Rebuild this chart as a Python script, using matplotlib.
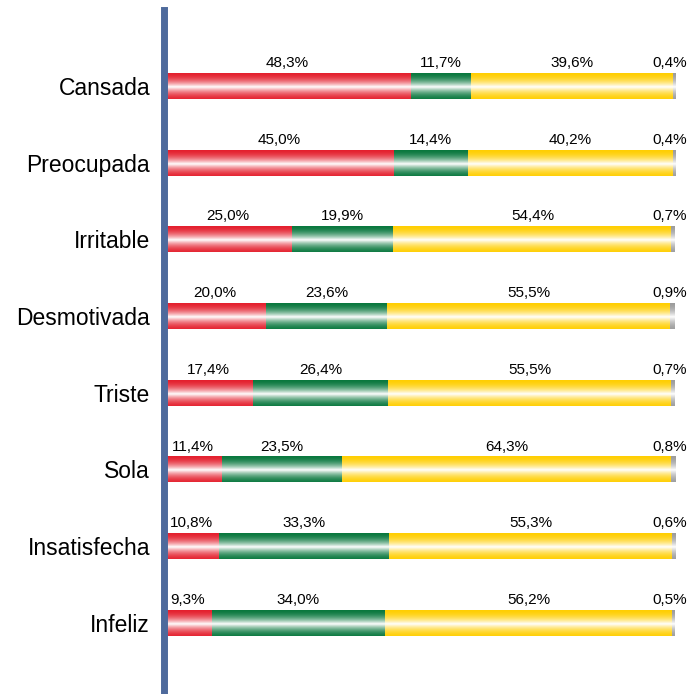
import numpy as np
import matplotlib
matplotlib.use("Agg")
import matplotlib.pyplot as plt
from matplotlib.colors import to_rgb

plt.rcParams["font.family"] = ["Liberation Sans", "DejaVu Sans"]

categories = ["Cansada", "Preocupada", "Irritable", "Desmotivada",
              "Triste", "Sola", "Insatisfecha", "Infeliz"]
red_vals = [48.3, 45.0, 25.0, 20.0, 17.4, 11.4, 10.8, 9.3]
green_vals = [11.7, 14.4, 19.9, 23.6, 26.4, 23.5, 33.3, 34.0]
yellow_vals = [39.6, 40.2, 54.4, 55.5, 55.5, 64.3, 55.3, 56.2]
gray_vals = [0.4, 0.4, 0.7, 0.9, 0.7, 0.8, 0.6, 0.5]

series = [red_vals, green_vals, yellow_vals, gray_vals]
colors = ["#E41F2D", "#08773D", "#FFCE00", "#9C9C9C"]


def gradient(color, n=64):
    # dark edges, white band through the middle
    c = np.array(to_rgb(color))
    t = np.linspace(0, 1, n)
    w = np.clip(1 - np.abs(t - 0.55) / 0.55, 0, 1) ** 2.0
    rows = c[None, :] * (1 - w[:, None]) + w[:, None]
    return rows[:, None, :]


fig = plt.figure(figsize=(6.87, 6.94), dpi=100)
ax = fig.add_axes([164 / 687, 0, (675 - 164) / 687, 684 / 694])

y = np.arange(len(categories))
height = 0.34
left = np.zeros(len(categories))
for k, (vals, col) in enumerate(zip(series, colors)):
    bars = ax.barh(y, vals, left=left, height=height, color=col, linewidth=0)
    img = gradient(col)
    last = k == len(series) - 1
    for bar, v in zip(bars, vals):
        x0, y0 = bar.get_x(), bar.get_y()
        im = ax.imshow(img, extent=(x0, x0 + bar.get_width(), y0 + bar.get_height(), y0),
                       aspect="auto", interpolation="bilinear", zorder=2)
        im.set_clip_path(bar)
        label = f"{v:.1f}%".replace(".", ",")
        if last:
            # small end segment: keep its label inside the figure
            ax.annotate(label, (x0 + bar.get_width(), y0),
                        xytext=(8.5, 2), textcoords="offset points",
                        ha="right", va="bottom", fontsize=11, annotation_clip=False)
        else:
            ax.annotate(label, (x0 + bar.get_width() / 2, y0),
                        xytext=(0, 2), textcoords="offset points",
                        ha="center", va="bottom", fontsize=11, annotation_clip=False)
    left += np.array(vals)

ax.set_xlim(0, 100)
ax.set_ylim(7.93, -0.99)
ax.set_yticks(y)
ax.set_yticklabels(categories, fontsize=16.5)
ax.tick_params(axis="y", length=0, pad=10)
ax.set_xticks([])
for s in ["top", "right", "bottom"]:
    ax.spines[s].set_visible(False)
ax.spines["left"].set_color("#4E6A9C")
ax.spines["left"].set_linewidth(5)

fig.savefig("out.png", dpi=100)
